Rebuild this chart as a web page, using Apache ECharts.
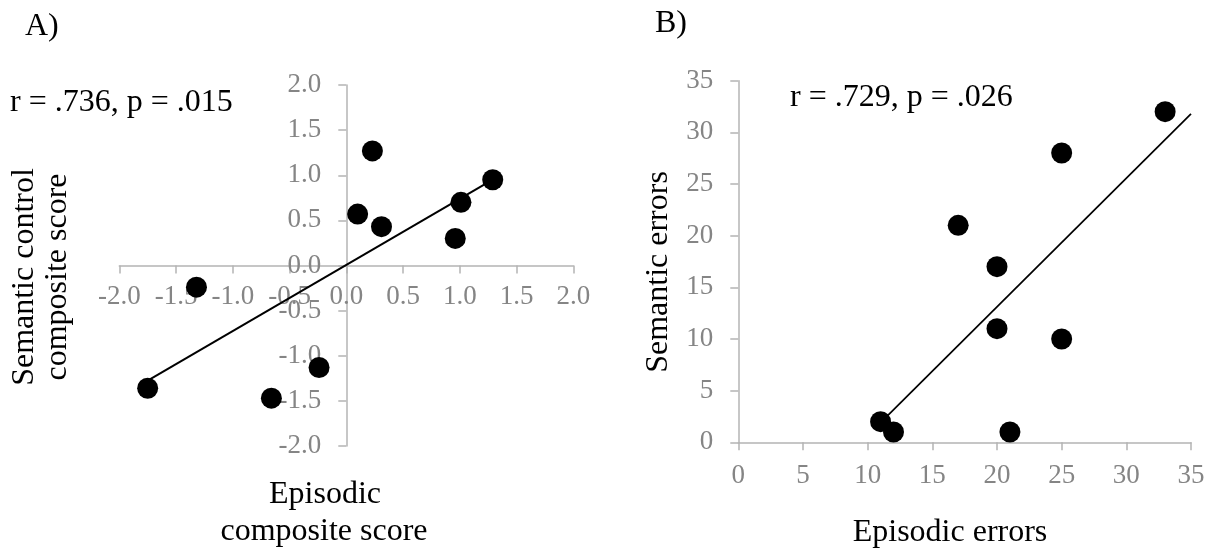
<!DOCTYPE html>
<html>
<head>
<meta charset="utf-8">
<script src="https://cdn.jsdelivr.net/npm/echarts@6/dist/echarts.min.js"></script>
<style>
  html, body { margin: 0; padding: 0; background: #ffffff; }
  #chart { width: 1214px; height: 549px; }
</style>
</head>
<body>
<div id="chart"></div>
<script>
// ---- Data ----
const episodicCompositeA = [-1.32, -1.75, -0.66, -0.24, 0.10, 0.23, 0.31, 0.96, 1.01, 1.29];
const semanticCompositeA = [-0.24, -1.36, -1.47, -1.13, 0.57, 1.27, 0.43, 0.30, 0.70, 0.95];
const episodicErrorsB = [11, 12, 17, 20, 20, 21, 25, 25, 33];
const semanticErrorsB = [2, 1, 21, 17, 11, 1, 28, 10, 32];
const trendRangeA = [-1.75, 1.29];
const trendRangeB = [11, 35];
const axisRangeA = [-2, 2, 0.5];   // min, max, interval
const axisRangeB = [0, 35, 5];
const panelLabels = ['A)', 'B)'];
const statsText = ['r = .736, p = .015', 'r = .729, p = .026'];
const axisNamesA = ['Semantic control', 'composite score', 'Episodic', 'composite score'];
const axisNamesB = ['Semantic errors', 'Episodic errors'];

// least-squares fit from the points
function fit(xs, ys) {
  const n = xs.length;
  const mx = xs.reduce((a, b) => a + b, 0) / n;
  const my = ys.reduce((a, b) => a + b, 0) / n;
  let sxy = 0, sxx = 0;
  for (let i = 0; i < n; i++) { sxy += (xs[i] - mx) * (ys[i] - my); sxx += (xs[i] - mx) ** 2; }
  const b = sxy / sxx;
  return { a: my - b * mx, b: b };
}
const fA = fit(episodicCompositeA, semanticCompositeA);
const fB = fit(episodicErrorsB, semanticErrorsB);
const trendA = trendRangeA.map(x => [x, fA.a + fA.b * x]);
const trendB = trendRangeB.map(x => [x, fB.a + fB.b * x]);

const FONT = '"Liberation Serif", "Times New Roman", serif';
const AXIS_COLOR = '#b4b4b4';
const LABEL_COLOR = '#858585';

const gridA = { left: 119.3, top: 85, width: 454, height: 361 };
const gridB = { left: 738.3, top: 80.7, width: 452.7, height: 361.6 };

// pixel offsets that place panel A's axes through zero (labels move with the line)
const zeroFracA = (0 - axisRangeA[0]) / (axisRangeA[1] - axisRangeA[0]);
const yAxisOffsetA = -gridA.width * zeroFracA;
const xAxisOffsetA = -gridA.height * zeroFracA;

function valueAxis(gridIndex, range, margin, fmt, offset) {
  return {
    type: 'value', gridIndex: gridIndex,
    min: range[0], max: range[1], interval: range[2],
    offset: offset || 0,
    axisLine: { show: true, onZero: false, lineStyle: { color: AXIS_COLOR, width: 1.5 } },
    axisTick: { show: true, inside: false, length: 8, lineStyle: { color: AXIS_COLOR, width: 1.5 } },
    splitLine: { show: false },
    axisLabel: {
      color: LABEL_COLOR, fontFamily: FONT, fontSize: 27, margin: margin,
      formatter: fmt, showMinLabel: true, showMaxLabel: true, hideOverlap: false
    }
  };
}
const fmtA = v => v.toFixed(1);
const fmtB = v => String(v);

const pts = (xs, ys) => xs.map((x, i) => [x, ys[i]]);

const textStyle = (size, color) => ({ font: size + 'px ' + FONT, fill: color });

const option = {
  animation: false,
  backgroundColor: '#ffffff',
  grid: [gridA, gridB],
  xAxis: [
    Object.assign(valueAxis(0, axisRangeA, 18, fmtA, xAxisOffsetA), { position: 'bottom' }),
    Object.assign(valueAxis(1, axisRangeB, 20, fmtB), { position: 'bottom' })
  ],
  yAxis: [
    Object.assign(valueAxis(0, axisRangeA, 25, fmtA, yAxisOffsetA), { position: 'left' }),
    Object.assign(valueAxis(1, axisRangeB, 25, fmtB), { position: 'left' })
  ],
  series: [
    {
      type: 'line', xAxisIndex: 0, yAxisIndex: 0, data: trendA,
      showSymbol: false, symbol: 'none', lineStyle: { color: '#000', width: 2 }, z: 2, silent: true
    },
    {
      type: 'scatter', xAxisIndex: 0, yAxisIndex: 0,
      data: pts(episodicCompositeA, semanticCompositeA),
      symbolSize: 21, itemStyle: { color: '#000', opacity: 1 }, z: 3
    },
    {
      type: 'line', xAxisIndex: 1, yAxisIndex: 1, data: trendB,
      showSymbol: false, symbol: 'none', lineStyle: { color: '#000', width: 1.7 }, z: 2, silent: true
    },
    {
      type: 'scatter', xAxisIndex: 1, yAxisIndex: 1,
      data: pts(episodicErrorsB, semanticErrorsB),
      symbolSize: 21, itemStyle: { color: '#000', opacity: 1 }, z: 3
    }
  ],
  graphic: [
    { type: 'text', x: 25, y: 27, style: Object.assign(textStyle(32, '#000'), { text: panelLabels[0], align: 'left', verticalAlign: 'middle' }) },
    { type: 'text', x: 655, y: 24, style: Object.assign(textStyle(32, '#000'), { text: panelLabels[1], align: 'left', verticalAlign: 'middle' }) },
    { type: 'text', x: 10, y: 103, style: Object.assign(textStyle(32, '#000'), { text: statsText[0], align: 'left', verticalAlign: 'middle' }) },
    { type: 'text', x: 790, y: 98, style: Object.assign(textStyle(32, '#000'), { text: statsText[1], align: 'left', verticalAlign: 'middle' }) },
    { type: 'text', x: 25, y: 277, rotation: Math.PI / 2, style: Object.assign(textStyle(32, '#000'), { text: axisNamesA[0], align: 'center', verticalAlign: 'middle' }) },
    { type: 'text', x: 58, y: 277, rotation: Math.PI / 2, style: Object.assign(textStyle(32, '#000'), { text: axisNamesA[1], align: 'center', verticalAlign: 'middle' }) },
    { type: 'text', x: 325, y: 495, style: Object.assign(textStyle(32, '#000'), { text: axisNamesA[2], align: 'center', verticalAlign: 'middle' }) },
    { type: 'text', x: 324, y: 532, style: Object.assign(textStyle(32, '#000'), { text: axisNamesA[3], align: 'center', verticalAlign: 'middle' }) },
    { type: 'text', x: 659, y: 272, rotation: Math.PI / 2, style: Object.assign(textStyle(32, '#000'), { text: axisNamesB[0], align: 'center', verticalAlign: 'middle' }) },
    { type: 'text', x: 950, y: 533, style: Object.assign(textStyle(32, '#000'), { text: axisNamesB[1], align: 'center', verticalAlign: 'middle' }) }
  ]
};

const chart = echarts.init(document.getElementById('chart'), null, { renderer: 'canvas' });
chart.setOption(option);
</script>
</body>
</html>
